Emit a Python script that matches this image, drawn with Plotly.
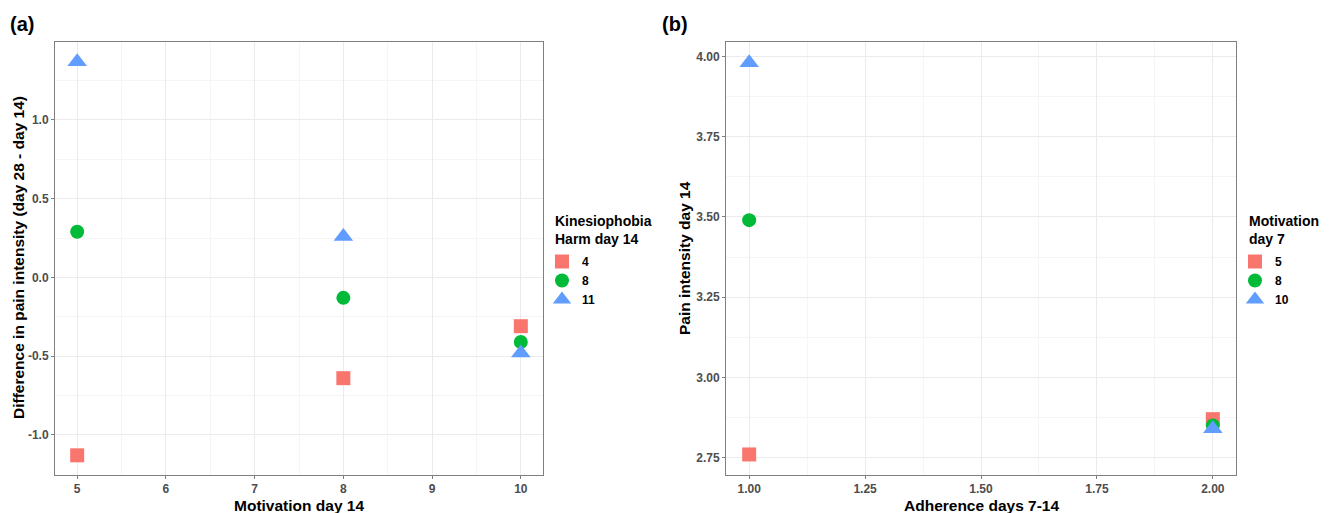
import plotly.graph_objects as go

# ---- data ----
# Panel (a): Motivation day 14 vs difference in pain intensity, grouped by Kinesiophobia Harm day 14
a_groups = ["4", "8", "11"]
a_x = {"4": [5, 8, 10], "8": [5, 8, 10], "11": [5, 8, 10]}
a_y = {"4": [-1.13, -0.64, -0.31], "8": [0.29, -0.13, -0.41], "11": [1.37, 0.26, -0.48]}

# Panel (b): Adherence days 7-14 vs pain intensity day 14, grouped by Motivation day 7
b_groups = ["5", "8", "10"]
b_x = {"5": [1, 2], "8": [1, 2], "10": [1, 2]}
b_y = {"5": [2.76, 2.87], "8": [3.49, 2.85], "10": [3.98, 2.84]}

colors = ["#F8766D", "#00BA38", "#619CFF"]
symbols = ["square", "circle", "triangle-up"]
sizes = [14, 14, 17]

W, H = 1338, 513
FONT = "Liberation Sans, Arial, sans-serif"

fig = go.Figure()
for i, g in enumerate(a_groups):
    fig.add_trace(go.Scatter(
        x=a_x[g], y=a_y[g], mode="markers", name=g,
        marker=dict(color=colors[i], symbol=symbols[i], size=sizes[i], line=dict(width=0)),
        xaxis="x", yaxis="y", legend="legend"))
for i, g in enumerate(b_groups):
    fig.add_trace(go.Scatter(
        x=b_x[g], y=b_y[g], mode="markers", name=g,
        marker=dict(color=colors[i], symbol=symbols[i], size=sizes[i], line=dict(width=0)),
        xaxis="x2", yaxis="y2", legend="legend2"))

def px_x(p):
    return p / W

def px_y(p):
    return 1 - p / H

tickfont = dict(family=FONT, size=12, color="#4D4D4D", weight="bold")
common = dict(showgrid=True, gridcolor="#EBEBEB", gridwidth=1, zeroline=False,
              showline=True, linecolor="#7F7F7F", linewidth=1, mirror=True,
              ticks="outside", ticklen=3, tickcolor="#7F7F7F", tickfont=tickfont)

legfont = dict(family=FONT, size=12, color="black", weight="bold")

fig.update_layout(
    width=W, height=H,
    margin=dict(l=0, r=0, t=0, b=0),
    paper_bgcolor="white", plot_bgcolor="white",
    font=dict(family=FONT),
    xaxis=dict(domain=[px_x(55), px_x(543)], range=[4.75, 10.25], tickvals=[5, 6, 7, 8, 9, 10],
               minor=dict(tickvals=[5.5, 6.5, 7.5, 8.5, 9.5], showgrid=True, gridcolor="#F5F5F5", ticks=""),
               anchor="y", **common),
    yaxis=dict(domain=[px_y(475), px_y(42)], range=[-1.255, 1.495], tickvals=[-1.0, -0.5, 0.0, 0.5, 1.0],
               ticktext=["-1.0", "-0.5", "0.0", "0.5", "1.0"],
               minor=dict(tickvals=[-1.25, -0.75, -0.25, 0.25, 0.75, 1.25], showgrid=True, gridcolor="#F5F5F5", ticks=""),
               anchor="x", **common),
    xaxis2=dict(domain=[px_x(726), px_x(1236)], range=[0.95, 2.05], tickvals=[1.0, 1.25, 1.5, 1.75, 2.0],
                ticktext=["1.00", "1.25", "1.50", "1.75", "2.00"],
                minor=dict(tickvals=[1.125, 1.375, 1.625, 1.875], showgrid=True, gridcolor="#F5F5F5", ticks=""),
                anchor="y2", **common),
    yaxis2=dict(domain=[px_y(475), px_y(42)], range=[2.696, 4.045], tickvals=[2.75, 3.0, 3.25, 3.5, 3.75, 4.0],
                ticktext=["2.75", "3.00", "3.25", "3.50", "3.75", "4.00"],
                minor=dict(tickvals=[2.875, 3.125, 3.375, 3.625, 3.875], showgrid=True, gridcolor="#F5F5F5", ticks=""),
                anchor="x2", **common),
    legend=dict(x=px_x(542), y=px_y(247), xanchor="left", yanchor="top",
                font=legfont, bgcolor="rgba(0,0,0,0)", tracegroupgap=0, itemwidth=30),
    legend2=dict(x=px_x(1235), y=px_y(247), xanchor="left", yanchor="top",
                 font=legfont, bgcolor="rgba(0,0,0,0)", tracegroupgap=0, itemwidth=30),
    showlegend=True,
)

ann = []
ann.append(dict(text="<b>(a)</b>", x=px_x(8), y=px_y(24), xref="paper", yref="paper",
                xanchor="left", yanchor="middle", showarrow=False, font=dict(family=FONT, size=20, color="black")))
ann.append(dict(text="<b>(b)</b>", x=px_x(660), y=px_y(24), xref="paper", yref="paper",
                xanchor="left", yanchor="middle", showarrow=False, font=dict(family=FONT, size=20, color="black")))
# legend titles
ann.append(dict(text="<b>Kinesiophobia<br>Harm day 14</b>", x=px_x(553), y=px_y(230), xref="paper", yref="paper",
                xanchor="left", yanchor="middle", align="left", showarrow=False,
                font=dict(family=FONT, size=14, color="black")))
ann.append(dict(text="<b>Motivation<br>day 7</b>", x=px_x(1247), y=px_y(230), xref="paper", yref="paper",
                xanchor="left", yanchor="middle", align="left", showarrow=False,
                font=dict(family=FONT, size=14, color="black")))
# axis titles
ann.append(dict(text="<b>Motivation day 14</b>", x=px_x(299), y=px_y(505), xref="paper", yref="paper",
                xanchor="center", yanchor="middle", showarrow=False, font=dict(family=FONT, size=15.5, color="black")))
ann.append(dict(text="<b>Adherence days 7-14</b>", x=px_x(981), y=px_y(505), xref="paper", yref="paper",
                xanchor="center", yanchor="middle", showarrow=False, font=dict(family=FONT, size=15.5, color="black")))
ann.append(dict(text="<b>Difference in pain intensity (day 28 - day 14)</b>", x=px_x(18), y=px_y(258), xref="paper", yref="paper",
                xanchor="center", yanchor="middle", showarrow=False, textangle=-90, font=dict(family=FONT, size=15.5, color="black")))
ann.append(dict(text="<b>Pain intensity day 14</b>", x=px_x(684), y=px_y(258), xref="paper", yref="paper",
                xanchor="center", yanchor="middle", showarrow=False, textangle=-90, font=dict(family=FONT, size=15.5, color="black")))
fig.update_layout(annotations=ann)

fig.write_html("out.html", config={"displayModeBar": False},
               post_script="document.body.style.margin='0';document.body.style.overflow='hidden';")
